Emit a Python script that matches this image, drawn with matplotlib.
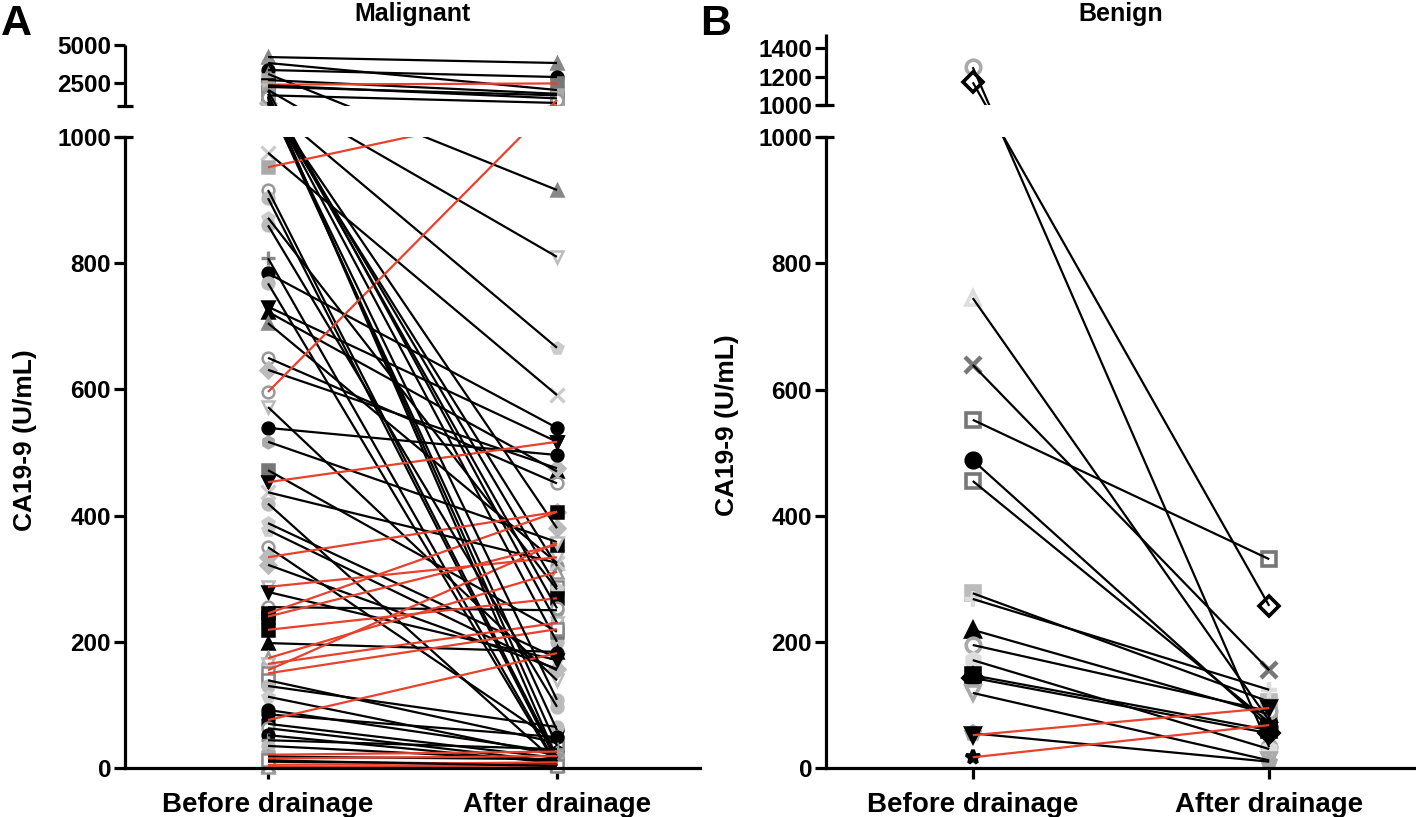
import numpy as np
import matplotlib
matplotlib.use('Agg')
import matplotlib.pyplot as plt

plt.rcParams['font.family'] = ['Liberation Sans', 'DejaVu Sans']
plt.rcParams['font.weight'] = 'bold'

# ---------------- data ----------------
groups = ['Before drainage', 'After drainage']

mal_before = [4210, 3820, 3360, 3100, 2700, 2400, 2350, 2250, 2050, 2000,
              1700, 1800, 1650, 1550, 1450, 1300, 1200, 1070, 1150, 975,
              952, 916, 903, 872, 808, 784, 768, 731, 723, 705,
              650, 631, 596, 572, 539, 517, 472, 453, 437, 419,
              388, 377, 350, 334, 322, 287, 279, 255, 245, 240,
              219, 198, 174, 165, 155, 150, 139, 130, 113, 92,
              85, 76, 70, 63, 52, 44, 35, 21, 18, 15,
              10, 5, 2, 12, 1250, 1600, 860]
mal_after = [3820, 2050, 2900, 916, 1800, 2480, 1500, 1700, 810, 230,
             1200, 15, 35, 287, 200, 60, 380, 666, 320, 591,
             1060, 15, 10, 283, 5, 539, 3, 517, 470, 325,
             451, 475, 1390, 139, 496, 358, 216, 517, 325, 8,
             174, 155, 40, 406, 157, 334, 171, 250, 406, 354,
             269, 184, 311, 230, 357, 220, 40, 65, 20, 25,
             49, 182, 16, 10, 8, 30, 12, 26, 14, 19,
             6, 9, 4, 3, 108, 253, 97]

ben_before = [1267, 1161, 745, 639, 552, 488, 455, 277, 268, 219,
              195, 171, 147, 143, 119, 55, 52, 17]
ben_after = [33, 257, 75, 155, 331, 65, 72, 105, 124, 85,
             90, 30, 60, 55, 12, 10, 95, 68]

# ---------------- styles ----------------
RED = '#E8412C'
style_table = [
    ('^', '#888888', '#888888'),   # 0
    ('o', 'white', '#999999'),     # 1
    ('s', '#aaaaaa', '#aaaaaa'),   # 2
    ('v', 'black', 'black'),       # 3
    ('D', '#bbbbbb', '#bbbbbb'),   # 4
    ('x', 'none', '#cccccc'),      # 5
    ('o', 'black', 'black'),       # 6
    ('s', 'white', '#888888'),     # 7
    ('h', '#aaaaaa', '#aaaaaa'),   # 8
    ('+', 'none', '#888888'),      # 9
    ('v', 'white', '#bbbbbb'),     # 10
    ('^', 'black', 'black'),       # 11
    ('o', '#bbbbbb', '#bbbbbb'),   # 12
    ('p', '#cccccc', '#cccccc'),   # 13
    ('s', 'black', 'black'),       # 14
    ('^', 'white', '#999999'),     # 15
    ('*', '#999999', '#999999'),   # 16
    ('s', '#777777', '#777777'),   # 17
]
mal_style = [0, 16, 6, 0, 2, 17, 14, 2, 10, 8,
             12, 1, 1, 7, 12, 6, 4, 13, 1, 5,
             2, 1, 12, 13, 9, 6, 12, 3, 11, 0,
             1, 4, 1, 10, 6, 8, 17, 3, 5, 12,
             13, 13, 1, 4, 4, 10, 3, 1, 14, 14,
             14, 11, 15, 10, 10, 7, 7, 12, 13, 6,
             6, 6, 6, 1, 6, 9, 12, 16, 2, 16,
             0, 0, 15, 7, 12, 1, 12]
ben_style = [
    ('o', 'white', '#aaaaaa'), ('D', 'white', 'black'), ('^', 'white', '#dddddd'),
    ('x', 'none', '#777777'), ('s', 'white', '#777777'), ('o', 'black', 'black'),
    ('s', 'white', '#777777'), ('s', '#bbbbbb', '#bbbbbb'), ('+', 'none', '#dddddd'),
    ('^', 'black', 'black'), ('o', 'white', '#aaaaaa'), ('h', '#dddddd', '#dddddd'),
    ('s', 'black', 'black'), ('D', 'black', 'black'), ('v', 'white', '#aaaaaa'),
    ('p', '#aaaaaa', '#aaaaaa'), ('v', 'black', 'black'), ('*', 'black', 'black'),
]

W, H = 1416, 817
fig = plt.figure(figsize=(W / 100, H / 100), dpi=100)

S = 0.631  # px per unit in lower segment


def make_scale(gap_px, k_px):
    def fwd(v):
        v = np.asarray(v, dtype=float)
        return np.where(v <= 1000, v * S, 1000 * S + gap_px + (v - 1000) * k_px)

    def inv(u):
        u = np.asarray(u, dtype=float)
        lo = u / S
        hi = 1000 + (u - 1000 * S - gap_px) / k_px
        return np.where(u <= 1000 * S, lo, np.where(u < 1000 * S + gap_px, 1000.0, hi))
    return fwd, inv


LW_AX = 2.3


def panel(ax, before, after, styles, gap_px, k_px, ymax, upper_ticks, upper_labels,
          ms, mew, width_px):
    ax.set_yscale('function', functions=make_scale(gap_px, k_px))
    ax.set_ylim(0, ymax)
    ax.set_xlim(-0.495, 1.495)
    for b, a, st in zip(before, after, styles):
        m, fc, ec = st
        col = RED if a > b else 'black'
        ax.plot([0, 1], [b, a], color=col, lw=1.6, zorder=3, clip_on=False,
                solid_capstyle='butt')
        for xx, yy in ((0, b), (1, a)):
            if m in ('x', '+'):
                ax.plot(xx, yy, marker=m, ms=ms + 1, mec=ec, mew=mew + 0.6,
                        zorder=2, clip_on=False, ls='none')
            else:
                ax.plot(xx, yy, marker=m, ms=ms, mfc=fc, mec=ec, mew=mew,
                        zorder=2, clip_on=False, ls='none')
    # gap cover
    ax.axhspan(1000, 1000.001, color='white', lw=0, zorder=4)
    # spines
    for s in ('top', 'right', 'left'):
        ax.spines[s].set_visible(False)
    ax.spines['bottom'].set_linewidth(LW_AX)
    ax.spines['bottom'].set_zorder(6)
    tr = ax.get_yaxis_transform()
    ax.plot([0, 0], [0, 1000], transform=tr, color='black', lw=LW_AX,
            clip_on=False, zorder=6, solid_capstyle='projecting')
    ax.plot([0, 0], [1000.001, ymax], transform=tr, color='black', lw=LW_AX,
            clip_on=False, zorder=6, solid_capstyle='butt')
    cw = 8.0 / width_px
    for yv in (1000, 1000.001):
        ax.plot([-cw, cw], [yv, yv], transform=tr, color='black', lw=LW_AX,
                clip_on=False, zorder=6, solid_capstyle='butt')
    lower = [0, 200, 400, 600, 800, 1000]
    ticks = lower + upper_ticks
    labels = [str(t) for t in lower] + upper_labels
    ax.set_yticks(ticks, labels)
    ax.set_xticks([0, 1], groups)
    ax.tick_params(axis='y', direction='out', length=8, width=LW_AX,
                   labelsize=17.5, pad=2)
    ax.tick_params(axis='x', direction='out', length=8, width=LW_AX,
                   labelsize=20, pad=9)
    for lab in ax.get_yticklabels() + ax.get_xticklabels():
        lab.set_fontweight('bold')
    ax.patch.set_visible(False)


axA = fig.add_axes([125 / W, (H - 768) / H, 575 / W, 723 / H])
panel(axA, mal_before, mal_after, [style_table[i] for i in mal_style],
      31, 61 / 4000, 5000, [2500, 5000], ['2500', '5000'], 8.5, 1.8, 575)

axB = fig.add_axes([826 / W, (H - 768) / H, 590 / W, 734 / H])
panel(axB, ben_before, ben_after, ben_style,
      32, 0.1425, 1500, [1000.001, 1200, 1400], ['1000', '1200', '1400'], 10.5, 2.6,
      590)

# titles and labels
fig.text(412.5 / W, 1 - 21 / H, 'Malignant', ha='center', va='baseline',
         fontsize=18, fontweight='bold')
fig.text(1121 / W, 1 - 21 / H, 'Benign', ha='center', va='baseline',
         fontsize=18, fontweight='bold')
fig.text(1 / W, 1 - 4 / H, 'A', ha='left', va='top', fontsize=31, fontweight='bold')
fig.text(700 / W, 1 - 4 / H, 'B', ha='left', va='top', fontsize=31, fontweight='bold')
fig.text(25 / W, 1 - 440 / H, 'CA19-9 (U/mL)', rotation=90, ha='center', va='center',
         fontsize=19, fontweight='bold')
fig.text(727 / W, 1 - 425 / H, 'CA19-9 (U/mL)', rotation=90, ha='center', va='center',
         fontsize=19, fontweight='bold')

fig.savefig('out.png', dpi=100)
